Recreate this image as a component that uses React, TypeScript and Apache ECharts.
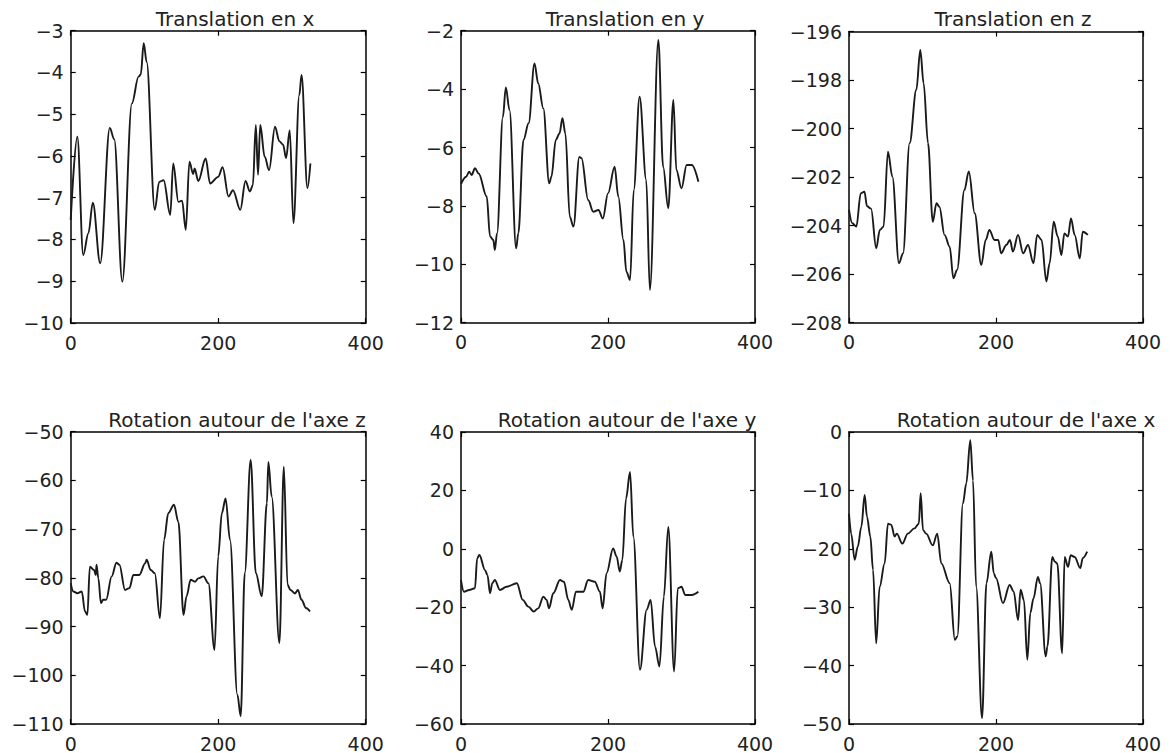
import React, { useEffect, useRef } from "react";
import * as echarts from "echarts";

const translationX: [number, number][] = [
  [0, -7.53], [9, -5.54], [17, -8.37], [24, -7.85], [30, -7.12], [40, -8.57], [53, -5.33], [59, -5.6],
  [70, -9.01], [83, -4.74], [92, -4.1], [95, -4.05], [99, -3.3], [103, -3.75], [114, -7.29], [120, -6.62],
  [126, -6.58], [135, -7.41], [139, -6.18], [146, -7.1], [151, -7.07], [156, -7.77], [161, -6.14], [166, -6.43],
  [168, -6.3], [173, -6.6], [183, -6.06], [189, -6.66], [200, -6.5], [206, -6.27], [214, -6.97], [220, -6.82],
  [230, -7.29], [237, -6.6], [243, -6.85], [247, -6.7], [251, -5.26], [254, -6.45], [257, -5.26], [263, -6.02],
  [269, -6.34], [277, -5.3], [283, -5.65], [288, -5.73], [292, -6.05], [297, -5.38], [302, -7.61], [310, -4.54],
  [313, -4.06], [321, -6.77], [325, -6.18],
];

const translationY: [number, number][] = [
  [0, -7.25], [7, -7.0], [11, -6.83], [14.5, -6.94], [19, -6.71], [24, -6.89], [35, -7.68], [39.5, -9.05],
  [44, -9.17], [46, -9.51], [49, -8.94], [57, -4.95], [61, -3.94], [66, -4.72], [75, -9.45], [78, -8.94],
  [85, -5.74], [92, -5.17], [100, -3.12], [105, -3.8], [112, -4.66], [120, -7.23], [123, -7.0], [129, -5.74],
  [134, -5.52], [138, -5.0], [142, -5.52], [148, -8.37], [153, -8.71], [161, -6.32], [164, -6.37], [173, -7.8],
  [180, -8.2], [187, -8.14], [193, -8.43], [200, -7.57], [209, -6.66], [214, -7.68], [221, -9.17], [225, -10.25],
  [230, -10.54], [235, -7.46], [243, -4.26], [252, -7.11], [257, -10.88], [268.5, -2.32], [275, -6.66], [282, -8.08],
  [289, -4.37], [293, -6.77], [300, -7.4], [307, -6.6], [314, -6.6], [323, -7.17],
];

const translationZ: [number, number][] = [
  [0, -203.35], [4.5, -203.9], [10, -204.04], [16, -202.67], [21, -202.6], [24.5, -203.2], [30, -203.3], [37, -204.93],
  [42, -204.18], [47, -204.04], [53, -200.95], [59, -201.98], [68, -205.55], [73.5, -205.14], [82.5, -200.6], [91.6, -198.4],
  [97, -196.76], [101.5, -198.13], [107.5, -200.6], [114, -203.84], [119, -203.08], [123, -203.22], [130, -204.38], [137, -204.87],
  [142, -206.17], [147, -205.83], [157, -202.53], [163, -201.77], [171, -203.49], [180, -205.62], [186, -204.59], [191, -204.18],
  [198, -204.59], [203, -204.59], [207, -205.14], [214, -204.8], [219, -204.59], [223, -205.07], [230, -204.38], [237, -205.14],
  [243.5, -204.8], [251, -205.55], [256, -204.38], [262, -204.59], [268.5, -206.3], [273, -205.55], [278.5, -203.84], [284, -204.45],
  [289, -205.21], [293, -204.32], [298, -204.45], [302, -203.7], [307, -204.38], [314, -205.35], [318, -204.25], [325, -204.38],
];

const rotationZ: [number, number][] = [
  [0, -81.1], [3.6, -82.8], [9, -83.15], [15, -82.8], [19.4, -86.9], [22.6, -87.6], [26, -77.7], [31.6, -78.4],
  [34, -79.4], [35, -77.3], [37.5, -80.1], [41, -85.2], [44, -84.5], [48, -84.5], [55.6, -79.7], [62, -76.9],
  [66, -77.3], [73.7, -82.5], [79.6, -82.1], [85, -79.4], [93, -79.4], [101, -77], [103, -76.3], [108.5, -78.4],
  [114, -79.05], [121, -88.3], [126.6, -72.2], [132.4, -66.7], [140, -65], [146, -68.5], [153, -87.6], [157, -83.8],
  [162.7, -80.4], [168.6, -80.8], [173, -80.1], [180, -79.7], [186.7, -81.1], [195, -94.8], [200, -75.6], [205, -66.7],
  [210, -63.7], [216, -72.2], [226, -104], [230.5, -108.4], [236, -79], [244, -55.8], [251, -79], [259, -83.8],
  [266, -64.7], [268, -56.2], [272.5, -63.3], [283, -93.4], [289, -57.2], [294, -81.4], [298, -82.5], [304, -83.2],
  [308, -82.5], [313, -84.5], [319, -86.2], [324.5, -86.9],
];

const rotationY: [number, number][] = [
  [0, -10.7], [4, -14.7], [11, -14.1], [19, -13.5], [22, -3.3], [25, -2.1], [32.7, -7.3], [36, -9],
  [39.5, -15.2], [42.6, -11.8], [46, -10.7], [53, -14.1], [62, -13], [76, -11.8], [84, -17.5], [91.6, -19.8],
  [99, -21.5], [105, -20.4], [112, -16.4], [116.5, -17.5], [119.7, -20.4], [125.6, -15.2], [134.7, -10.7], [140, -11.3],
  [146, -17.5], [150.6, -20.9], [156.5, -14.7], [166.4, -14.7], [173, -10.7], [182, -11.3], [189, -14.7], [192.7, -20.4],
  [198, -8.4], [207, 0.1], [211.8, -2.7], [216, -7.8], [219.5, -3.8], [224.5, 17.2], [230, 26.3], [234.5, 4.1],
  [243.5, -41.4], [252.6, -20.9], [258, -17.5], [264, -33.5], [270, -40.3], [276, -16.4], [282, 7.5], [290, -42],
  [295, -13.5], [300, -13], [305, -15.8], [314, -15.8], [323, -14.7],
];

const rotationX: [number, number][] = [
  [0, -14], [3, -17.4], [7.7, -21.9], [12, -19.6], [16.8, -16.2], [21.3, -10.8], [24.5, -14.5], [29, -17.9],
  [32.7, -23.6], [37, -36.2], [41.7, -26.5], [48.5, -22.5], [53, -15.7], [57.6, -15.9], [62, -17.9], [65, -17.4],
  [72.6, -19.1], [80, -17.4], [89, -16.5], [95, -15.7], [97.5, -10.5], [100.7, -16.8], [105, -17.4], [114, -19.4],
  [120, -17.4], [125.6, -22.5], [137, -25.9], [144, -35.6], [147.4, -35], [155, -12.2], [159.6, -8.8], [165, -1.4],
  [168.7, -8.3], [173, -26.5], [181, -49], [187, -25.9], [193.6, -20.5], [197, -24.2], [200, -25], [209.5, -29.3],
  [218.6, -26.2], [224, -27.3], [230, -32.2], [233.5, -27], [238, -28.8], [242.6, -39], [246.7, -31], [251, -28.5],
  [257, -24.8], [260, -25.9], [267.6, -38.4], [270, -36.7], [276.6, -21.4], [280, -22.2], [283.4, -22.5], [290, -37.9],
  [293.4, -21.4], [298, -23.1], [301.6, -21.1], [307, -21.4], [314.7, -23.3], [318, -21.6], [324, -20.5],
];

const titles = [
  "Translation en x",
  "Translation en y",
  "Translation en z",
  "Rotation autour de l'axe z",
  "Rotation autour de l'axe y",
  "Rotation autour de l'axe x",
];
const yMins = [-10, -12, -208, -110, -60, -50];
const yMaxs = [-3, -2, -196, -50, 40, 0];
const yIntervals = [1, 2, 2, 10, 20, 10];
const xTicks = { min: 0, max: 400, interval: 200 };

const FONT = "DejaVu Sans";

export default function App() {
  const ref = useRef<HTMLDivElement>(null);
  useEffect(() => {
    const chart = echarts.init(ref.current!, null, { renderer: "svg" });
    const datasets = [translationX, translationY, translationZ, rotationZ, rotationY, rotationX];
    const boxes = [
      [70.7, 30.7, 295, 292.3],
      [461, 30.7, 294, 292],
      [849, 31.5, 294, 291.2],
      [70.7, 431.7, 295, 292.3],
      [461, 432, 294, 292],
      [849, 432, 294, 292],
    ];
    const titlePos = [
      [230, 4],
      [620, 4],
      [1008, 4],
      [232, 405],
      [622, 405],
      [1021, 405],
    ];
    const fmt = (v: number) => String(v).replace("-", "\u2212");
    const axisLine = { show: true, onZero: false, lineStyle: { color: "#000", width: 1.5 } };
    const axisTick = { show: true, inside: true, length: 5, lineStyle: { color: "#000", width: 1.2 } };
    const label = { fontFamily: FONT, fontSize: 19, color: "#222", showMinLabel: true, showMaxLabel: true, formatter: fmt };
    const grid: any[] = [];
    const xAxis: any[] = [];
    const yAxis: any[] = [];
    const series: any[] = [];
    const title: any[] = [];
    datasets.forEach((data, i) => {
      const b = boxes[i];
      grid.push({ left: b[0], top: b[1], width: b[2], height: b[3], containLabel: false });
      xAxis.push({
        type: "value", gridIndex: i, position: "bottom", ...xTicks,
        axisLine, axisTick, splitLine: { show: false },
        axisLabel: { ...label, margin: 10 },
      });
      xAxis.push({
        type: "value", gridIndex: i, position: "top", ...xTicks,
        axisLine, axisTick, splitLine: { show: false }, axisLabel: { show: false },
      });
      yAxis.push({
        type: "value", gridIndex: i, position: "left", min: yMins[i], max: yMaxs[i], interval: yIntervals[i],
        axisLine, axisTick, splitLine: { show: false },
        axisLabel: { ...label, margin: 7 },
      });
      yAxis.push({
        type: "value", gridIndex: i, position: "right", min: yMins[i], max: yMaxs[i], interval: yIntervals[i],
        axisLine, axisTick, splitLine: { show: false }, axisLabel: { show: false },
      });
      series.push({
        type: "line", xAxisIndex: 2 * i, yAxisIndex: 2 * i, data,
        showSymbol: false, smooth: 0.35, smoothMonotone: "x",
        lineStyle: { color: "#1a1a1a", width: 1.9 },
      });
      title.push({
        text: titles[i], left: titlePos[i][0], top: titlePos[i][1], textAlign: "center",
        textStyle: { fontFamily: FONT, fontSize: 20, fontWeight: "normal", color: "#222" },
      });
    });
    chart.setOption({
      animation: false,
      backgroundColor: "#fff",
      title, grid, xAxis, yAxis, series,
    });
    return () => chart.dispose();
  }, []);
  return (
    <div
      ref={ref}
      style={{ position: "absolute", left: 0, top: 0, width: 1170, height: 753, background: "#fff" }}
    />
  );
}
